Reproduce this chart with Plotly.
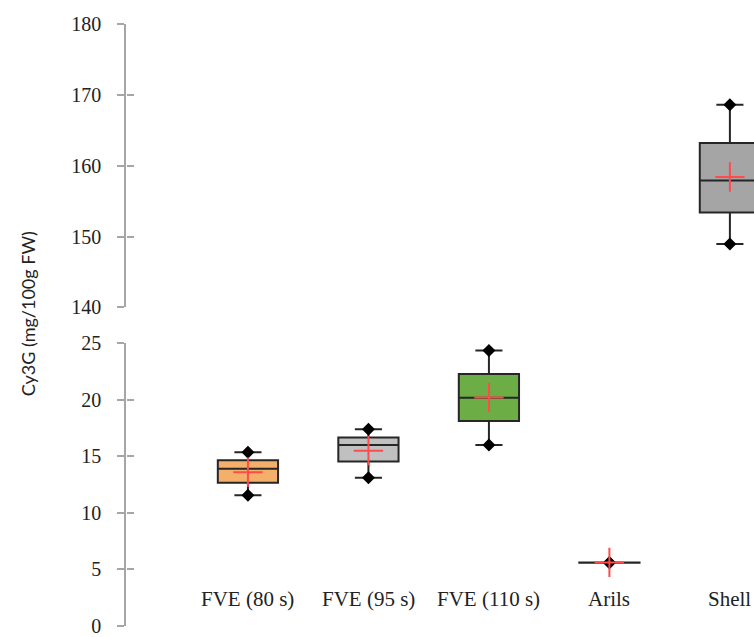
import plotly.graph_objects as go

categories = ["FVE (80 s)", "FVE (95 s)", "FVE (110 s)", "Arils", "Shell"]
q1 = [12.66, 14.53, 18.13, 5.60, 153.4]
median = [13.89, 16.00, 20.18, 5.60, 157.9]
q3 = [14.65, 16.67, 22.28, 5.62, 163.2]
lower = [11.55, 13.10, 16.00, 5.60, 148.95]
upper = [15.35, 17.40, 24.35, 5.62, 168.6]
mean = [13.60, 15.50, 20.20, 5.62, 158.4]
colors = ["#F4B06A", "#C0C0C0", "#6DAD45", "#808080", "#A5A5A5"]
panel = ["low", "low", "low", "low", "high"]

low_ticks = [0, 5, 10, 15, 20, 25]
high_ticks = [140, 150, 160, 170, 180]

fig = go.Figure()

for i, c in enumerate(categories):
    xa, ya = ("x", "y") if panel[i] == "low" else ("x2", "y2")
    fig.add_trace(go.Box(
        x=[c], q1=[q1[i]], median=[median[i]], q3=[q3[i]],
        lowerfence=[lower[i]], upperfence=[upper[i]],
        fillcolor=colors[i], line=dict(color="#262626", width=2),
        whiskerwidth=0.45, width=0.5, boxpoints=False,
        xaxis=xa, yaxis=ya, showlegend=False, hoverinfo="skip"))
    fig.add_trace(go.Scatter(
        x=[c, c], y=[lower[i], upper[i]], mode="markers",
        marker=dict(symbol="diamond", size=10, color="black"),
        xaxis=xa, yaxis=ya, showlegend=False, hoverinfo="skip"))
    fig.add_trace(go.Scatter(
        x=[c], y=[mean[i]], mode="markers",
        marker=dict(symbol="cross-thin", size=21,
                    line=dict(color="#FF4B4B", width=2)),
        xaxis=xa, yaxis=ya, showlegend=False, hoverinfo="skip"))

axis_col = "#A6A6A6"
tfont = dict(family="Liberation Serif", size=20, color="#222222")
low_dom = [0, 0.4698]
high_dom = [0.5292, 1]

common_x = dict(type="category", categoryorder="array", categoryarray=categories,
                range=[-1.012, 4.2], visible=False, showgrid=False, zeroline=False)

fig.update_layout(
    width=754, height=637,
    margin=dict(l=126, r=0, t=24, b=7),
    plot_bgcolor="white", paper_bgcolor="white",
    xaxis=dict(**common_x, anchor="y", domain=[0, 1]),
    xaxis2=dict(**common_x, anchor="y2", domain=[0, 1], matches="x"),
    yaxis=dict(domain=low_dom, range=[0, 25], tickvals=low_ticks,
               showline=True, linecolor=axis_col, linewidth=1.5,
               ticks="outside", ticklen=7, tickcolor=axis_col, tickwidth=1.5,
               showgrid=False, zeroline=False, tickfont=tfont,
               ticklabelstandoff=12, anchor="x"),
    yaxis2=dict(domain=high_dom, range=[140, 180], tickvals=high_ticks,
                showline=True, linecolor=axis_col, linewidth=1.5,
                ticks="outside", ticklen=7, tickcolor=axis_col, tickwidth=1.5,
                showgrid=False, zeroline=False, tickfont=tfont,
                ticklabelstandoff=12, anchor="x2"),
    yaxis3=dict(domain=low_dom, range=[0, 25], tickvals=low_ticks, overlaying="y",
                anchor="free", position=0, side="left", visible=True,
                ticks="inside", ticklen=7, tickcolor=axis_col, tickwidth=1.5,
                showticklabels=False, showgrid=False, zeroline=False, showline=False),
    yaxis4=dict(domain=high_dom, range=[140, 180], tickvals=high_ticks, overlaying="y2",
                anchor="free", position=0, side="left", visible=True,
                ticks="inside", ticklen=7, tickcolor=axis_col, tickwidth=1.5,
                showticklabels=False, showgrid=False, zeroline=False, showline=False),
)

# invisible traces so the overlay tick axes render
fig.add_trace(go.Scatter(x=[categories[0]], y=[low_ticks[1]], xaxis="x", yaxis="y3",
                         mode="markers", marker=dict(opacity=0),
                         showlegend=False, hoverinfo="skip"))
fig.add_trace(go.Scatter(x=[categories[0]], y=[high_ticks[1]], xaxis="x2", yaxis="y4",
                         mode="markers", marker=dict(opacity=0),
                         showlegend=False, hoverinfo="skip"))

for c in categories:
    fig.add_annotation(x=c, y=2.37, xref="x", yref="y", text=c, showarrow=False,
                       font=dict(family="Liberation Serif", size=21, color="#222222"),
                       yanchor="middle")

fig.add_annotation(x=0, y=0.518, xref="paper", yref="paper", xshift=-98,
                   text="Cy3G (mg/100g FW)", textangle=-90, showarrow=False,
                   font=dict(family="Lato", size=18, color="#222222"),
                   xanchor="center", yanchor="middle")

fig.write_html("out.html", config={"displayModeBar": False},
               post_script="document.body.style.margin='0';document.body.style.overflow='hidden';")
